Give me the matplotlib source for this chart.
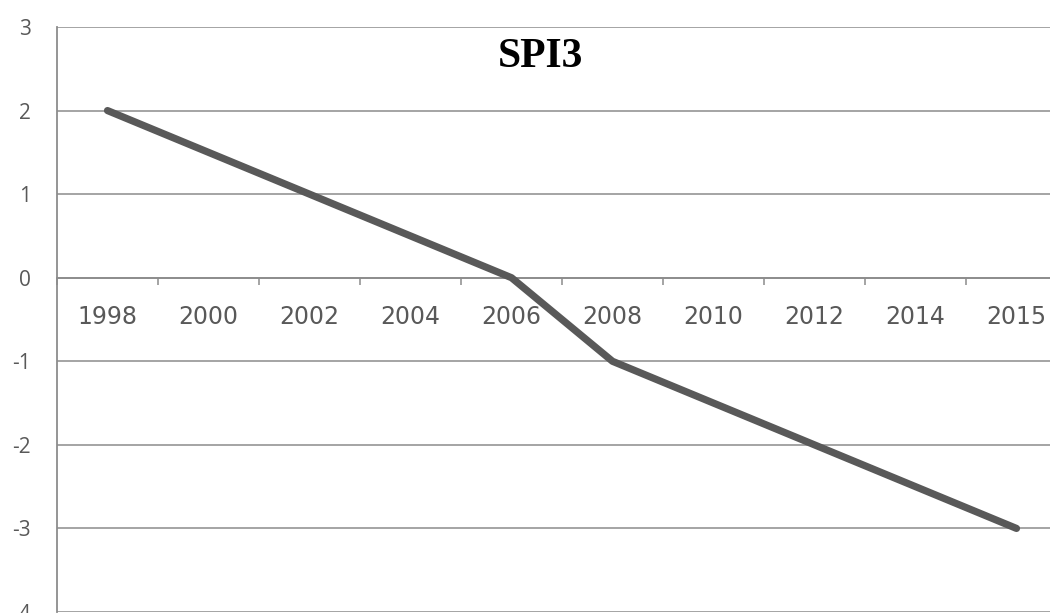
import matplotlib.pyplot as plt
import numpy as np

# SPI3 series, one value per labelled year
years = ['1998', '2000', '2002', '2004', '2006', '2008', '2010', '2012', '2014', '2015']
spi3 = [2, 1.5, 1, 0.5, 0, -1, -1.5, -2, -2.5, -3]
y_ticks = [-4, -3, -2, -1, 0, 1, 2, 3]

grid_col = '#8c8c8c'
text_col = '#595959'

fig = plt.figure(figsize=(10.5, 6.13), dpi=100)
ax = fig.add_axes([57 / 1050, 1 / 613, 1010 / 1050, 585 / 613])

x = np.arange(len(years))
ax.plot(x, spi3, color='#595959', lw=5.2, solid_capstyle='round',
        solid_joinstyle='round', zorder=3)

ax.set_xlim(-0.5, len(years) - 0.5)
ax.set_ylim(-4, 3)

# horizontal gridlines, category axis drawn through zero
ax.set_yticks(y_ticks)
ax.yaxis.grid(True, color=grid_col, lw=1.1)
ax.set_axisbelow(True)
ax.tick_params(axis='y', length=0, pad=19, labelsize=15, labelcolor=text_col)
ax.set_yticklabels([str(v) for v in y_ticks], fontfamily='Open Sans')

ax.set_xticks(np.arange(len(years) + 1) - 0.5, minor=False)
ax.set_xticklabels([''] * (len(years) + 1))
ax.set_xticks(x, minor=True)
ax.set_xticklabels(years, minor=True, fontfamily='Open Sans')
ax.tick_params(axis='x', which='major', length=5, width=1.1, color=grid_col,
               direction='out')
ax.tick_params(axis='x', which='minor', length=0, pad=20, labelsize=17,
               labelcolor=text_col)

ax.spines['bottom'].set_position(('data', 0))
ax.spines['bottom'].set_color(grid_col)
ax.spines['bottom'].set_linewidth(1.3)
ax.spines['left'].set_color(grid_col)
ax.spines['left'].set_linewidth(1.3)
ax.spines['top'].set_visible(False)
ax.spines['right'].set_visible(False)

fig.text(540 / 1050, 1 - 57 / 613, 'SPI3', ha='center', va='center',
         fontsize=30, fontweight='bold', fontfamily='Liberation Serif',
         color='black')

fig.savefig('out.png', dpi=100)
